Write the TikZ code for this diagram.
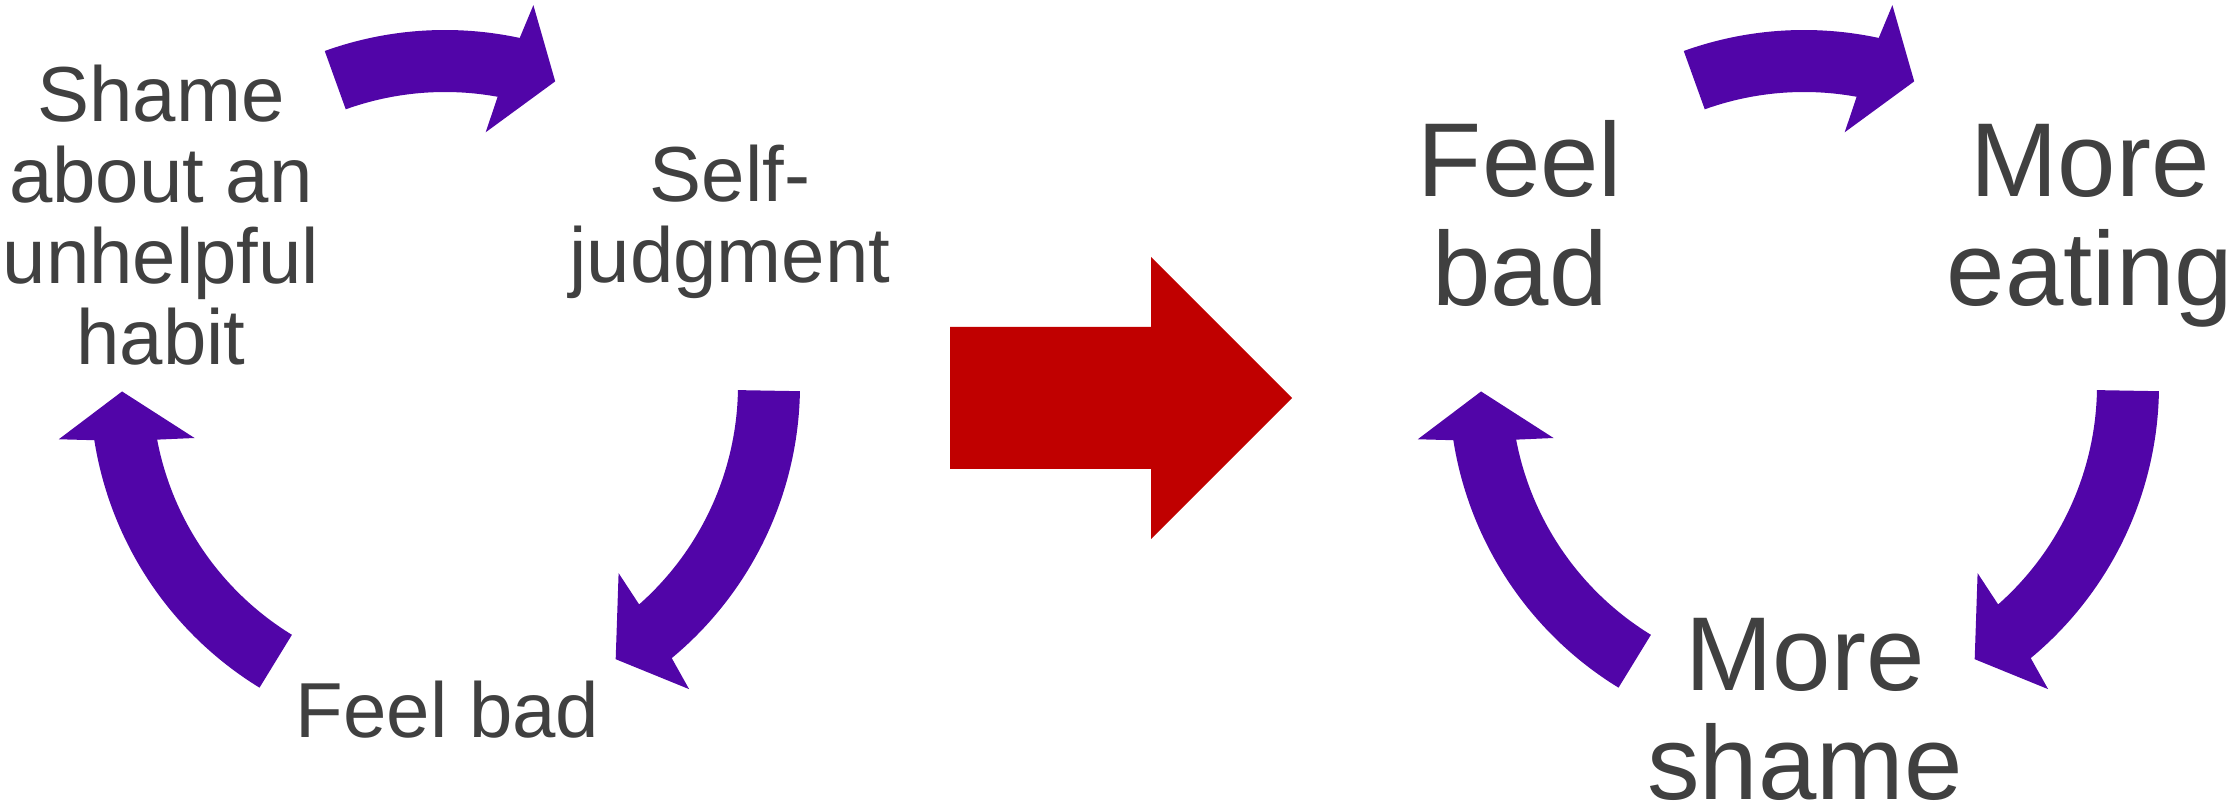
\documentclass[tikz,border=0pt]{standalone}
\usepackage{fontspec}
\setmainfont{Liberation Sans}
\usetikzlibrary{calc}
\definecolor{arrowpurple}{RGB}{81,5,168}
\definecolor{arrowred}{RGB}{192,0,0}
\definecolor{textgrey}{RGB}{64,64,64}
\tikzset{
  cyclearrowstyle/.style={fill=arrowpurple},
  bigarrowstyle/.style={fill=arrowred},
  lab/.style={anchor=base, inner sep=0pt, text=textgrey},
  smalltext/.style={font=\fontsize{39pt}{40.25pt}\selectfont},
  bigtext/.style={font=\fontsize{52.5pt}{53.5pt}\selectfont},
}
% #1 centre, #2 tail angle, #3 notch angle (arrow runs clockwise)
\newcommand{\cyclearrow}[3]{%
  \fill[cyclearrowstyle] ($(#1)+({#2}:355)$)
    arc[start angle={#2}, end angle={#3-0.9}, radius=355]
    -- ($(#1)+({#3-1.85}:390)$)
    -- ($(#1)+({#3-8.7}:323)$)
    -- ($(#1)+({#3+2.1}:256)$)
    -- ($(#1)+({#3+0.9}:293)$)
    arc[start angle={#3+0.9}, end angle={#2}, radius=293]
    -- cycle;}
\begin{document}
\begin{tikzpicture}[x=0.5pt, y=0.5pt]
\useasboundingbox (0,0) rectangle (2229,803);
\coordinate (C1) at (445,418);
\coordinate (C2) at (1804,418);

% left cycle
\cyclearrow{C1}{109.8}{78.75}
\cyclearrow{C1}{-1}{-49.4}
\cyclearrow{C1}{238.5}{189.85}
\node[lab, smalltext] (shame) at (161,681) {\begin{tabular}[t]{@{}c@{}}Shame\\about an\\unhelpful\\habit\end{tabular}};
\node[lab, smalltext] (selfjudg) at (730,601) {\begin{tabular}[t]{@{}c@{}}Self-\\judgment\end{tabular}};
\node[lab, smalltext] (feelbadL) at (447.5,65) {Feel bad};

% red arrow
\fill[bigarrowstyle] (950,334) -- (1151,334) -- (1151,264) -- (1292,405)
  -- (1151,546) -- (1151,476) -- (950,476) -- cycle;

% right cycle
\cyclearrow{C2}{109.8}{78.75}
\cyclearrow{C2}{-1}{-49.4}
\cyclearrow{C2}{238.5}{189.85}
\node[lab, bigtext] (feelbadR) at (1520,606) {\begin{tabular}[t]{@{}c@{}}Feel\\bad\end{tabular}};
\node[lab, bigtext] (moreeating) at (2090,606) {\begin{tabular}[t]{@{}c@{}}More\\eating\end{tabular}};
\node[lab, bigtext] (moreshame) at (1805,112) {\begin{tabular}[t]{@{}c@{}}More\\shame\end{tabular}};
\end{tikzpicture}
\end{document}
